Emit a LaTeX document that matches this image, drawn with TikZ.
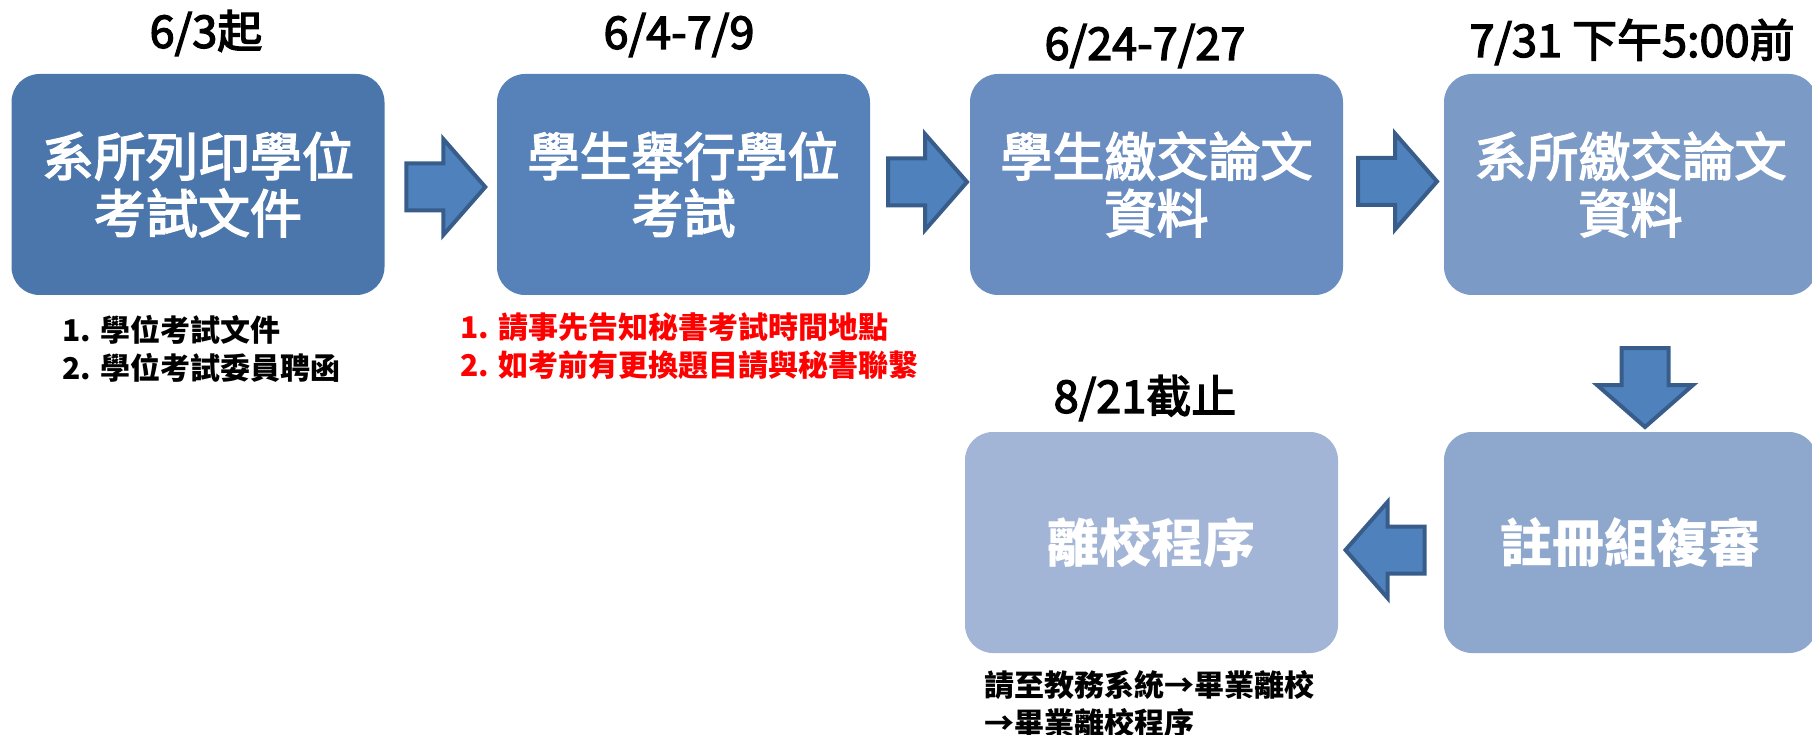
\documentclass[tikz,border=0pt]{standalone}
\usepackage{fontspec}
\setmainfont{Noto Sans CJK TC}
\newfontfamily\medfont[FakeBold=3]{Noto Sans CJK TC}
\usetikzlibrary{calc}
\definecolor{cA}{HTML}{4A76AC}
\definecolor{cB}{HTML}{5681B9}
\definecolor{cC}{HTML}{6A8DC1}
\definecolor{cD}{HTML}{7B9AC6}
\definecolor{cE}{HTML}{8EA7CC}
\definecolor{cF}{HTML}{A2B5D6}
\definecolor{arrfill}{HTML}{4F81BD}
\definecolor{arrline}{HTML}{385D8A}
\begin{document}
\begin{tikzpicture}[x=1pt,y=-1pt,
  box/.style={rectangle, rounded corners=28pt, minimum width=373pt, minimum height=221pt,
    inner sep=0pt, text=white, align=center, font=\fontsize{52}{57}\selectfont\medfont},
  boldbox/.style={box, font=\fontsize{52}{57}\selectfont\bfseries},
  datelabel/.style={inner sep=0pt, font=\fontsize{45}{50}\selectfont\medfont},
  note/.style={inner sep=0pt, anchor=west, align=left, font=\fontsize{30}{38}\selectfont\bfseries},
  arrowstyle/.style={fill=arrfill, draw=arrline, line width=4pt, line join=miter},
  barrow/.pic={\filldraw[arrowstyle] (-39.5,-23.5) -- (-2.5,-23.5) -- (-2.5,-48) -- (39.5,0) -- (-2.5,48) -- (-2.5,23.5) -- (-39.5,23.5) -- cycle;}
]
\useasboundingbox (0,0) rectangle (1812,735);
\clip (0,0) rectangle (1812,735);

\node[box, fill=cA] (b1) at (198,184.5) {系所列印學位\\考試文件};
\node[box, fill=cB] (b2) at (683.5,184.5) {學生舉行學位\\考試};
\node[box, fill=cC] (b3) at (1156.5,184.5) {學生繳交論文\\資料};
\node[box, fill=cD] (b4) at (1630.5,184.5) {系所繳交論文\\資料};
\node[boldbox, fill=cE] (b5) at (1630.5,542.5) {註冊組複審};
\node[boldbox, fill=cF] (b6) at (1151.5,542.5) {離校程序};

\node[datelabel] (d1) at (206,33) {6/3起};
\node[datelabel] (d2) at (679,35) {6/4-7/9};
\node[datelabel] (d3) at (1145,46) {6/24-7/27};
\node[datelabel] (d4) at (1632,42) {7/31 下午5:00前};
\node[datelabel] (d5) at (1145,398) {8/21截止};

\node[note] (n1) at (62,348.5) {1. 學位考試文件\\2. 學位考試委員聘函};
\node[note, text=red] (n2) at (460,346) {1. 請事先告知秘書考試時間地點\\2. 如考前有更換題目請與秘書聯繫};
\node[note] (n6) at (984,703.5) {請至教務系統→畢業離校\\→畢業離校程序};

\pic at ($($(b1.east)!0.5!(b2.west)$)+(5,2.5)$) {barrow};
\pic at ($($(b2.east)!0.5!(b3.west)$)+(7.5,-2.5)$) {barrow};
\pic at ($($(b3.east)!0.5!(b4.west)$)+(4,-3)$) {barrow};
\pic[rotate=-90] at ($($(b4.south)!0.5!(b5.north)$)+(14.5,24)$) {barrow};
\pic[rotate=180] at ($($(b6.east)!0.5!(b5.west)$)+(-6,7.5)$) {barrow};
\end{tikzpicture}
\end{document}
